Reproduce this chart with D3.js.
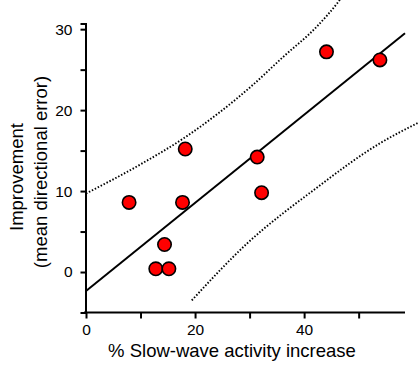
<!DOCTYPE html>
<html>
<head>
<meta charset="utf-8">
<script src="https://cdn.jsdelivr.net/npm/d3@7"></script>
<style>
  body { margin: 0; background: #fff; }
  svg text { font-family: "Liberation Sans", Arial, sans-serif; fill: #000; }
</style>
</head>
<body>
<svg id="chart" width="418" height="374"></svg>
<script>
// slow-wave activity increase (%) vs improvement, one point per subject
var swaIncrease = [7.9, 18.2, 17.7, 14.4, 12.8, 15.2, 31.4, 32.2, 44.1, 53.9];
var improvement = [8.6, 15.2, 8.6, 3.4, 0.4, 0.4, 14.2, 9.8, 27.2, 26.2];

// regression line end points
var fitX = [0, 58.5];
var fitY = [-2.35, 29.5];

// dotted confidence bands
var upperX = [0, 10, 18.3, 30.4, 36.2, 42.3, 46.3, 47.5];
var upperY = [9.7, 13.3, 16.7, 23.0, 26.6, 30.3, 33.4, 34.5];
var lowerX = [19.4, 29.5, 41.7, 53.9, 60.8];
var lowerY = [-3.5, 3.5, 10.1, 15.9, 18.4];

var xTicks = [0, 10, 20, 30, 40, 50];
var xLabels = [0, 20, 40];
var yTicks = [0, 5, 10, 15, 20, 25, 30];
var yLabels = [0, 10, 20, 30];

var svg = d3.select("#chart");

var x = d3.scaleLinear().domain([0, 58.5]).range([86, 405]);
var y = d3.scaleLinear().domain([-5, 30.7]).range([312.5, 23.5]);

// axes
var xAxis = svg.append("g")
    .attr("transform", "translate(0,312.5)")
    .call(d3.axisBottom(x).tickValues(xTicks).tickSizeOuter(0).tickSize(6)
        .tickFormat(function (d) { return xLabels.indexOf(d) >= 0 ? d : ""; }));
xAxis.select(".domain").attr("stroke-width", 2).attr("d", "M84,0H405");
xAxis.selectAll(".tick line").attr("stroke-width", 2);
xAxis.selectAll(".tick text").attr("y", 11).style("font-size", "15.5px");

var yAxis = svg.append("g")
    .attr("transform", "translate(85.5,0)")
    .call(d3.axisLeft(y).tickValues(yTicks).tickSizeOuter(0).tickSize(5)
        .tickFormat(function (d) { return yLabels.indexOf(d) >= 0 ? d : ""; }));
yAxis.select(".domain").attr("stroke-width", 2);
yAxis.selectAll(".tick line").attr("stroke-width", 2);
yAxis.selectAll(".tick text").attr("x", -13).style("font-size", "15.5px");

// axis titles
svg.append("text")
    .attr("x", 232).attr("y", 357)
    .attr("text-anchor", "middle")
    .style("font-size", "18.5px")
    .text("% Slow-wave activity increase");

svg.append("text")
    .attr("transform", "translate(23,177) rotate(-90)")
    .attr("text-anchor", "middle")
    .style("font-size", "18.5px")
    .text("Improvement");

svg.append("text")
    .attr("transform", "translate(46.5,172) rotate(-90)")
    .attr("text-anchor", "middle")
    .style("font-size", "18.5px")
    .text("(mean directional error)");

// confidence bands
var band = d3.line()
    .x(function (d) { return x(d[0]); })
    .y(function (d) { return y(d[1]); })
    .curve(d3.curveMonotoneX);

svg.append("path")
    .datum(d3.zip(upperX, upperY))
    .attr("d", band)
    .attr("fill", "none").attr("stroke", "#000")
    .attr("stroke-width", 1.9).attr("stroke-dasharray", "1.5,1.8");

svg.append("path")
    .datum(d3.zip(lowerX, lowerY))
    .attr("d", band)
    .attr("fill", "none").attr("stroke", "#000")
    .attr("stroke-width", 1.9).attr("stroke-dasharray", "1.5,1.8");

// fit line
svg.append("path")
    .datum(d3.zip(fitX, fitY))
    .attr("d", d3.line().x(function (d) { return x(d[0]); }).y(function (d) { return y(d[1]); }))
    .attr("fill", "none").attr("stroke", "#000").attr("stroke-width", 2);

// points
svg.selectAll("circle.pt")
    .data(d3.zip(swaIncrease, improvement))
    .enter().append("circle")
    .attr("class", "pt")
    .attr("cx", function (d) { return x(d[0]); })
    .attr("cy", function (d) { return y(d[1]); })
    .attr("r", 6.7)
    .attr("fill", "#ff0000")
    .attr("stroke", "#000")
    .attr("stroke-width", 1.6);
</script>
</body>
</html>
